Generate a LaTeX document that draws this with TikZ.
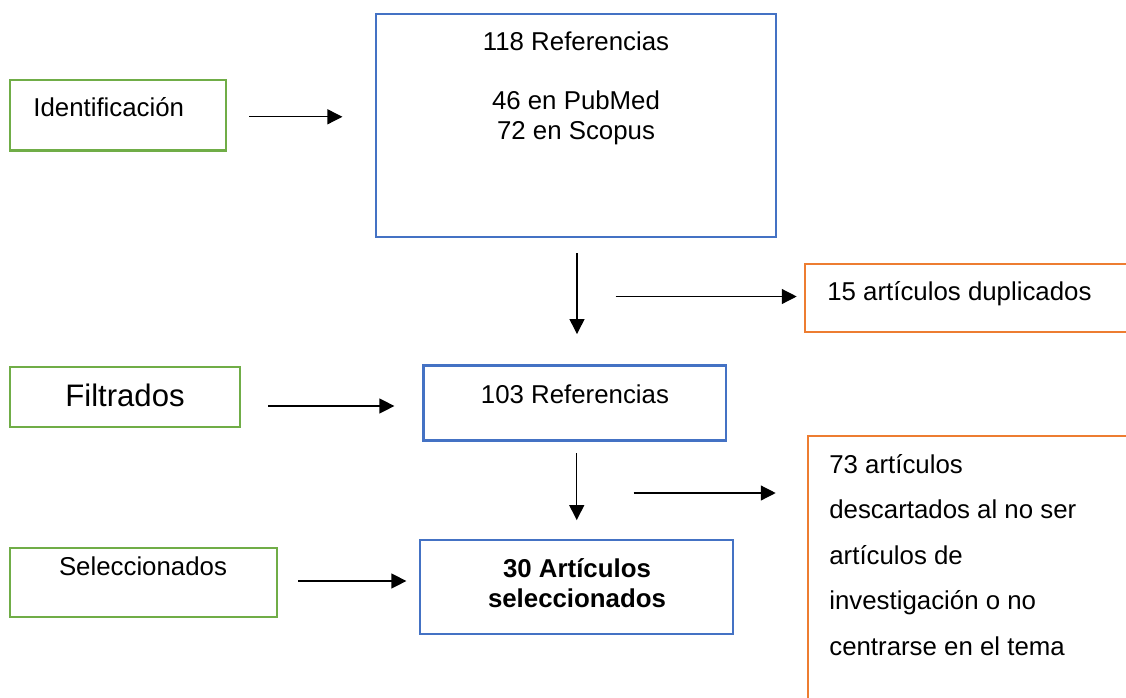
\documentclass[tikz,border=0pt]{standalone}
\usepackage{fontspec}
\setmainfont{Liberation Sans}
\usetikzlibrary{arrows.meta,calc}
\definecolor{azul}{HTML}{4472C4}
\definecolor{verde}{HTML}{70AD47}
\definecolor{naranja}{HTML}{ED7D31}
\begin{document}
\begin{tikzpicture}[x=0.02cm, y=-0.02cm,
    etapa/.style={draw=verde, line width=1.6pt, inner sep=0pt},
    caja/.style={draw=azul, line width=1.2pt, inner sep=0pt},
    nota/.style={draw=naranja, line width=1.5pt, inner sep=0pt},
    texto/.style={inner sep=0pt, font=\fontsize{14.7pt}{17pt}\selectfont},
    flecha/.style={-{Triangle[length=8.5pt, width=8.5pt]}, line width=0.75pt}]
\useasboundingbox (0,0) rectangle (1126,697);
\clip (0,0) rectangle (1126,697);
% columna izquierda: etapas
\node[etapa, minimum width=4.32cm, minimum height=1.41cm] (ident) at (118,115.3) {};
\node[etapa, minimum width=4.6cm, minimum height=1.2cm] (filt) at (125,397) {};
\node[etapa, minimum width=5.34cm, minimum height=1.38cm] (selec) at (143.5,582.5) {};
\node[texto, anchor=base west] (identtxt) at (33,116) {Identificación};
\node[texto, anchor=base, font=\fontsize{17.7pt}{20pt}\selectfont] (filttxt) at (125,406) {Filtrados};
\node[texto, anchor=base] (selectxt) at (143,575) {Seleccionados};
% columna central: referencias
\node[caja, minimum width=8cm, minimum height=4.46cm] (refs) at (576,125.5) {};
\node[caja, minimum width=6.05cm, minimum height=1.5cm] (r103) at (574.75,403) {};
\node[caja, line width=1.6pt, minimum width=6.26cm, minimum height=1.88cm] (final) at (576.5,587) {};
\node[texto, anchor=north, align=center] (refstxt) at (576,31) {118 Referencias\\[17pt]46 en PubMed\\72 en Scopus};
\node[texto, anchor=base] (r103txt) at (575,403) {103 Referencias};
\node[texto, anchor=north, align=center, font=\fontsize{14.7pt}{17pt}\selectfont\bfseries] (finaltxt) at (577,558) {30 Artículos\\seleccionados};
% columna derecha: descartes
\node[nota, minimum width=6.7cm, minimum height=1.36cm] (dup) at (972.5,298) {};
\node[nota, minimum width=6.64cm, minimum height=5.68cm] (desc) at (974,578) {};
\node[texto, anchor=base west] (duptxt) at (827,300) {15 artículos duplicados};
\node[texto, anchor=north west, align=left, font=\fontsize{14.7pt}{25.9pt}\selectfont] (desctxt) at (829,454) {73 artículos\\descartados al no ser\\artículos de\\investigación o no\\centrarse en el tema};
% flechas
\draw[flecha] ($(ident.east)+(22,1.5)$) -- ++(93,0);
\draw[flecha] ($(refs.south)+(1,15)$) -- ++(0,81);
\draw[flecha] ($(dup.west)+(-188,-1.5)$) -- ++(181,0);
\draw[flecha] ($(filt.east)+(27,9)$) -- ++(126,0);
\draw[flecha] ($(r103.south)+(2,11.5)$) -- ++(0,67);
\draw[flecha] ($(desc.west)+(-173,-85)$) -- ++(142,0);
\draw[flecha] ($(selec.east)+(20,-1.5)$) -- ++(108,0);
\end{tikzpicture}
\end{document}
